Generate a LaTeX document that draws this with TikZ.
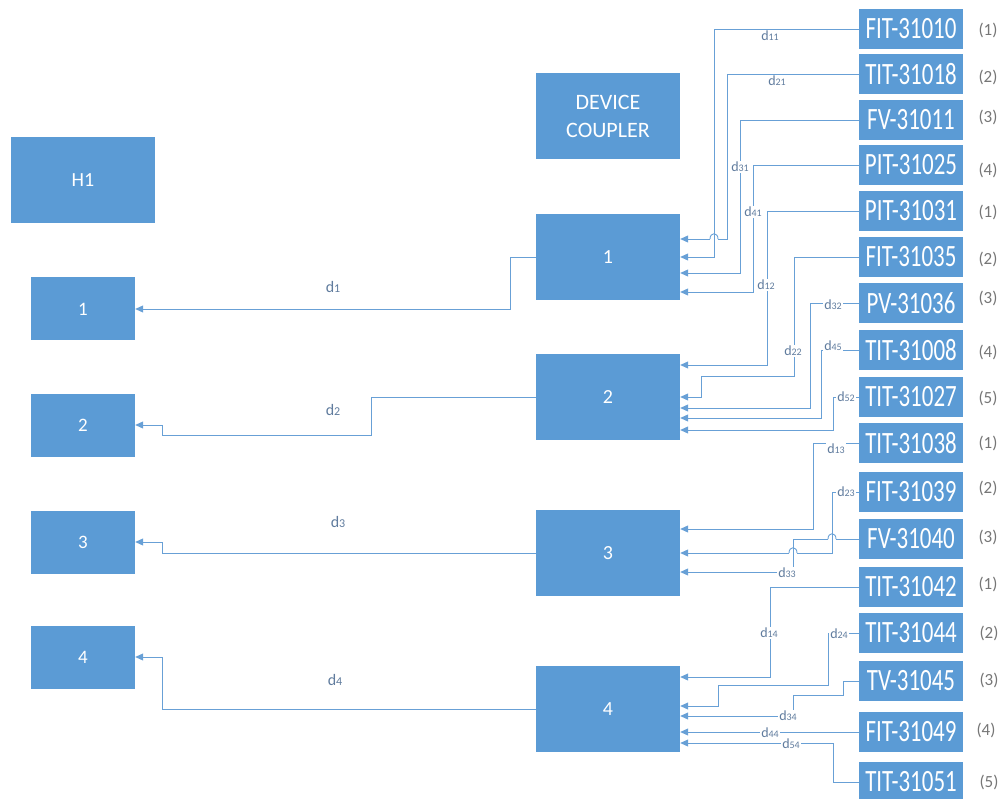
\documentclass[tikz,border=0pt]{standalone}
\usepackage{fontspec}
\setmainfont{Carlito}
\newfontfamily\tagfont[FakeStretch=0.74]{Carlito}
\usetikzlibrary{arrows.meta, positioning}
\definecolor{boxblue}{RGB}{91,155,213}
\definecolor{lineblue}{RGB}{104,160,214}
\definecolor{labgray}{RGB}{96,124,158}
\definecolor{taggray}{RGB}{118,118,118}
\newcommand{\dlab}[2][10]{d{\fontsize{#1}{#1}\selectfont #2}}

\begin{document}
\begin{tikzpicture}[
      x=1pt, y=-1pt,
      box/.style={rectangle, fill=boxblue, text=white, inner sep=0pt, align=center},
      hub/.style={box, minimum width=144pt, minimum height=86pt,
                  font=\fontsize{20}{28}\selectfont},
      dev/.style={box, minimum width=104pt, minimum height=40pt,
                  font=\tagfont\fontsize{31}{31}\selectfont},
      host/.style={box, minimum width=104pt, minimum height=63pt,
                   font=\fontsize{19}{22}\selectfont},
      tag/.style={text=taggray, font=\fontsize{17}{17}\selectfont},
      lab/.style={text=labgray, fill=white, inner sep=1pt,
                  font=\fontsize{14}{14}\selectfont},
      biglab/.style={lab, font=\fontsize{16}{16}\selectfont},
      wire/.style={draw=lineblue, line width=0.9pt},
      arr/.style={wire, -{Triangle[length=8pt,width=7pt]}}
    ]
    \useasboundingbox (0,0) rectangle (1006,799);

    % left side
    \node[hub] (h1) at (83,180) {H1};
    \node[host] (n1) at (83,309) {1};
    \node[host] (n2) at (83,425) {2};
    \node[host] (n3) at (83,542) {3};
    \node[host] (n4) at (83,657) {4};

    % couplers
    \node[hub, font=\fontsize{22}{28}\selectfont] (dc) at (608,116) {DEVICE\\COUPLER};
    \node[hub] (m1) at (608,257) {1};
    \node[hub] (m2) at (608,397) {2};
    \node[hub] (m3) at (608,553) {3};
    \node[hub] (m4) at (608,709) {4};

    % field devices
    \node[dev] (fit10) at (911,29) {FIT-31010};
    \node[dev] (tit18) at (911,74) {TIT-31018};
    \node[dev] (fv11) at (911,120) {FV-31011};
    \node[dev] (pit25) at (911,165) {PIT-31025};
    \node[dev] (pit31) at (911,211) {PIT-31031};
    \node[dev] (fit35) at (911,257) {FIT-31035};
    \node[dev] (pv36) at (911,303) {PV-31036};
    \node[dev] (tit08) at (911,350) {TIT-31008};
    \node[dev] (tit27) at (911,397) {TIT-31027};
    \node[dev] (tit38) at (911,443) {TIT-31038};
    \node[dev] (fit39) at (911,492) {FIT-31039};
    \node[dev] (fv40) at (911,539) {FV-31040};
    \node[dev] (tit42) at (911,587) {TIT-31042};
    \node[dev] (tit44) at (911,633) {TIT-31044};
    \node[dev] (tv45) at (911,681) {TV-31045};
    \node[dev] (fit49) at (911,732) {FIT-31049};
    \node[dev] (tit51) at (911,782) {TIT-31051};

    \node[tag] at (988,30) {(1)};
    \node[tag] at (988,77) {(2)};
    \node[tag] at (988,117) {(3)};
    \node[tag] at (988,170) {(4)};
    \node[tag] at (988,212) {(1)};
    \node[tag] at (988,259) {(2)};
    \node[tag] at (988,298) {(3)};
    \node[tag] at (988,352) {(4)};
    \node[tag] at (988,398) {(5)};
    \node[tag] at (988,443) {(1)};
    \node[tag] at (988,488) {(2)};
    \node[tag] at (988,537) {(3)};
    \node[tag] at (988,584) {(1)};
    \node[tag] at (989,633) {(2)};
    \node[tag] at (989,680) {(3)};
    \node[tag] at (986,730) {(4)};
    \node[tag] at (989,782) {(5)};

    % couplers to hosts
    \draw[arr] (m1.west) -| (510,309) -- (n1.east);
    \draw[arr] (m2.west) -| (371,435) -| (162,425) -- (n2.east);
    \draw[arr] (m3.west) -| (162,542) -- (n3.east);
    \draw[arr] (m4.west) -| (162,657) -- (n4.east);

    % devices to coupler 1
    \draw[arr] (fit10.west) -| (714,257) -- (m1.east);
    \coordinate (hopa) at (718,239);
    \coordinate (hopb) at (710,239);
    \draw[wire] (tit18.west) -| (727,239) -- (hopa);
    \draw[wire] (hopa) .. controls (718,232) and (710,232) .. (hopb);
    \draw[arr] (hopb) -- ([yshift=18pt]m1.east);
    \draw[arr] (fv11.west) -| (740,273) -- ([yshift=-16pt]m1.east);
    \draw[arr] (pit25.west) -| (753,292) -- ([yshift=-35pt]m1.east);

    % devices to coupler 2
    \draw[arr] (pit31.west) -| (767,365) -- ([yshift=32pt]m2.east);
    \draw[arr] (fit35.west) -| (794,376) -| (701,397) -- (m2.east);
    \draw[arr] (pv36.west) -| (810,408) -- ([yshift=-11pt]m2.east);
    \draw[arr] (tit08.west) -| (821,418) -- ([yshift=-21pt]m2.east);
    \draw[arr] (tit27.west) -| (833,430) -- ([yshift=-33pt]m2.east);

    % devices to coupler 3
    \draw[arr] (tit38.west) -| (813,529) -- ([yshift=24pt]m3.east);
    \coordinate (hopc) at (797,553);
    \coordinate (hopd) at (789,553);
    \draw[wire] (fit39.west) -| (832,553) -- (hopc);
    \draw[wire] (hopc) .. controls (797,546) and (789,546) .. (hopd);
    \draw[arr] (hopd) -- (m3.east);
    \coordinate (hope) at (836,539);
    \coordinate (hopf) at (828,539);
    \draw[wire] (fv40.west) -- (hope);
    \draw[wire] (hope) .. controls (836,532) and (828,532) .. (hopf);
    \draw[arr] (hopf) -| (793,572) -- ([yshift=-19pt]m3.east);

    % devices to coupler 4
    \draw[arr] (tit42.west) -| (770,677) -- ([yshift=32pt]m4.east);
    \draw[arr] (tit44.west) -| (828,685) -| (718,706) -- ([yshift=3pt]m4.east);
    \draw[arr] (tv45.west) -| (843,695) -| (793,716) -- ([yshift=-7pt]m4.east);
    \draw[arr] (fit49.west) -- (fit49.west -| m4.east);
    \draw[arr] (tit51.west) -| (833,743) -- ([yshift=-34pt]m4.east);

    % link labels
    \node[biglab] (l1) at (333,287) {\dlab[12]{1}};
    \node[biglab] (l2) at (333,410) {\dlab[12]{2}};
    \node[biglab] (l3) at (338,522) {\dlab[12]{3}};
    \node[biglab] (l4) at (335,680) {\dlab[12]{4}};

    \node[lab] (l11) at (770,36) {\dlab{11}};
    \node[lab] (l21) at (777,81) {\dlab{21}};
    \node[lab] (l31) at (740,167) {\dlab{31}};
    \node[lab] (l41) at (753,212) {\dlab{41}};
    \node[lab] (l12) at (766,285) {\dlab{12}};
    \node[lab] (l22) at (793,351) {\dlab{22}};
    \node[lab] (l32) at (833,305) {\dlab{32}};
    \node[lab] (l45) at (833,346) {\dlab{45}};
    \node[lab] (l52) at (846,397) {\dlab{52}};
    \node[lab] (l13) at (836,449) {\dlab{13}};
    \node[lab] (l23) at (846,492) {\dlab{23}};
    \node[lab] (l33) at (787,573) {\dlab{33}};
    \node[lab] (l14) at (769,633) {\dlab{14}};
    \node[lab] (l24) at (839,634) {\dlab{24}};
    \node[lab] (l34) at (788,716) {\dlab{34}};
    \node[lab] (l44) at (770,733) {\dlab{44}};
    \node[lab] (l54) at (791,744) {\dlab{54}};
  \end{tikzpicture}
\end{document}
